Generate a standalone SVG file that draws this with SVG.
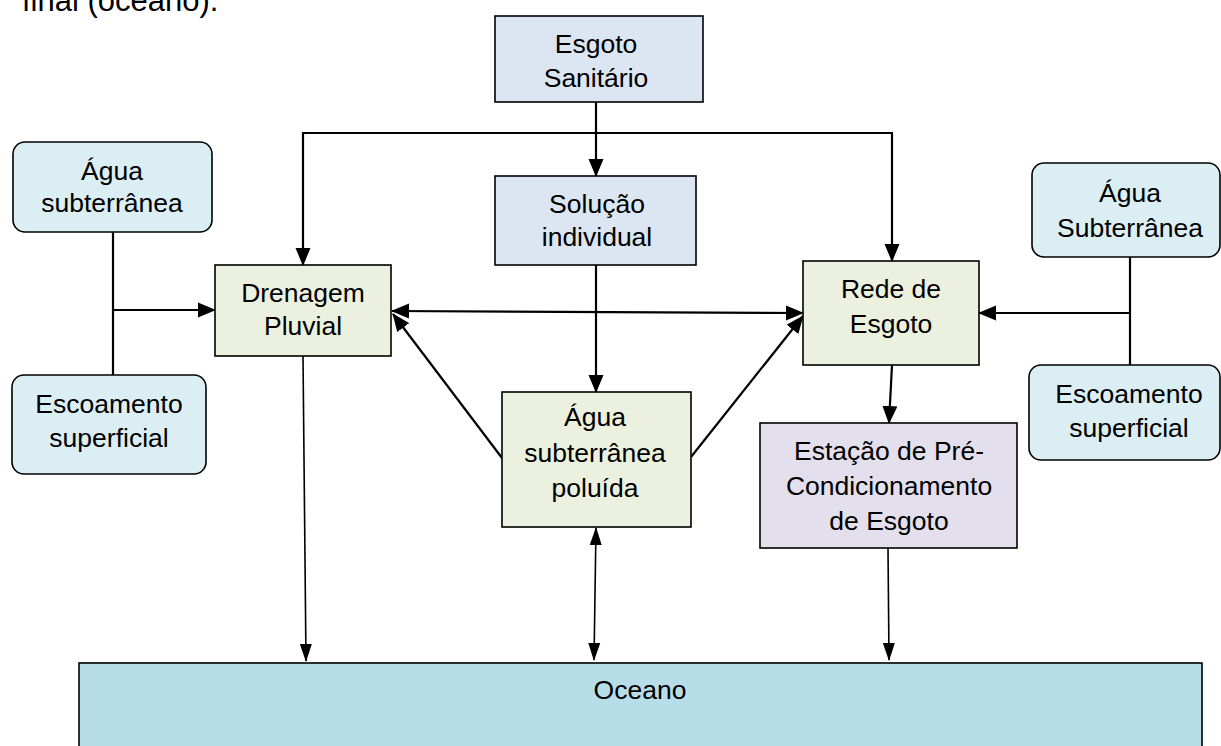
<svg xmlns="http://www.w3.org/2000/svg" width="1221" height="746" viewBox="0 0 1221 746">
<style>
text{font-family:"Liberation Sans",Arial,sans-serif;font-size:26.5px;fill:#000;text-anchor:middle}
.box{stroke:#000;stroke-width:1.6}
.blue{fill:#dce6f2}
.green{fill:#ebf1de}
.cyan{fill:#dbeef4}
.purple{fill:#e4dfec}
.ocean{fill:#b7dde8}
.c{stroke:#000;stroke-width:2.2;fill:none}
.t{stroke-width:1.6}
</style>
<defs>
<marker id="ah" markerUnits="userSpaceOnUse" markerWidth="18" markerHeight="16" refX="17" refY="7.5" orient="auto-start-reverse" viewBox="0 0 18 15">
<path d="M0,0 L18,7.5 L0,15 z" fill="#000"/>
</marker>
<marker id="an" markerUnits="userSpaceOnUse" markerWidth="18" markerHeight="14" refX="17" refY="6" orient="auto-start-reverse" viewBox="0 0 18 12">
<path d="M0,0 L18,6 L0,12 z" fill="#000"/>
</marker>
</defs>
<text x="22" y="11" style="text-anchor:start;font-size:31px">final (oceano).</text>

<g id="connectors">
<line class="c" x1="596" y1="102" x2="596" y2="176" marker-end="url(#ah)"/>
<line class="c" x1="302" y1="133" x2="893" y2="133"/>
<line class="c" x1="303" y1="133" x2="303" y2="265" marker-end="url(#ah)"/>
<line class="c" x1="892" y1="133" x2="892" y2="261" marker-end="url(#ah)"/>
<line class="c" x1="113" y1="232" x2="113" y2="375"/>
<line class="c" x1="113" y1="310" x2="215" y2="310" marker-end="url(#ah)"/>
<line class="c" x1="1130" y1="257" x2="1130" y2="365"/>
<line class="c" x1="1130" y1="313" x2="979" y2="313" marker-end="url(#ah)"/>
<line class="c" x1="392" y1="311" x2="803" y2="313" marker-start="url(#ah)" marker-end="url(#ah)"/>
<line class="c" x1="502" y1="458" x2="393" y2="314" marker-end="url(#ah)"/>
<line class="c" x1="691" y1="457" x2="803" y2="316" marker-end="url(#ah)"/>
<line class="c" x1="596" y1="265" x2="596" y2="392" marker-end="url(#ah)"/>
<line class="c" x1="892" y1="365" x2="889" y2="423" marker-end="url(#ah)"/>
<line class="c t" x1="303" y1="356" x2="306" y2="661" marker-end="url(#an)"/>
<line class="c t" x1="596" y1="528" x2="594" y2="660" marker-start="url(#an)" marker-end="url(#an)"/>
<line class="c t" x1="888" y1="548" x2="889" y2="660" marker-end="url(#an)"/>
</g>

<g id="esgoto-sanitario">
<rect class="box blue" x="495" y="16" width="208" height="86"/>
<text x="596" y="53">Esgoto</text>
<text x="596" y="87">Sanitário</text>
</g>
<g id="solucao-individual">
<rect class="box blue" x="495" y="176" width="201" height="89"/>
<text x="597" y="213">Solução</text>
<text x="597" y="246">individual</text>
</g>
<g id="agua-subterranea-esq">
<rect class="box cyan" x="13" y="142" width="199" height="90" rx="12"/>
<text x="112" y="180">Água</text>
<text x="112" y="212">subterrânea</text>
</g>
<g id="escoamento-esq">
<rect class="box cyan" x="12" y="375" width="194" height="99" rx="12"/>
<text x="109" y="413">Escoamento</text>
<text x="109" y="447">superficial</text>
</g>
<g id="drenagem-pluvial">
<rect class="box green" x="215" y="265" width="176" height="91"/>
<text x="303" y="302">Drenagem</text>
<text x="303" y="335">Pluvial</text>
</g>
<g id="rede-esgoto">
<rect class="box green" x="803" y="261" width="176" height="104"/>
<text x="891" y="298">Rede de</text>
<text x="891" y="333">Esgoto</text>
</g>
<g id="agua-subterranea-dir">
<rect class="box cyan" x="1032" y="163" width="188" height="94" rx="12"/>
<text x="1130" y="202">Água</text>
<text x="1130" y="237">Subterrânea</text>
</g>
<g id="escoamento-dir">
<rect class="box cyan" x="1029" y="365" width="191" height="95" rx="12"/>
<text x="1129" y="403">Escoamento</text>
<text x="1129" y="437">superficial</text>
</g>
<g id="agua-poluida">
<rect class="box green" x="502" y="392" width="189" height="135"/>
<text x="595" y="426">Água</text>
<text x="595" y="462">subterrânea</text>
<text x="595" y="497">poluída</text>
</g>
<g id="estacao">
<rect class="box purple" x="760" y="423" width="257" height="125"/>
<text x="889" y="460">Estação de Pré-</text>
<text x="889" y="495">Condicionamento</text>
<text x="889" y="530">de Esgoto</text>
</g>
<g id="oceano">
<rect class="box ocean" x="79" y="663" width="1123" height="100"/>
<text x="640" y="699">Oceano</text>
</g>
</svg>
